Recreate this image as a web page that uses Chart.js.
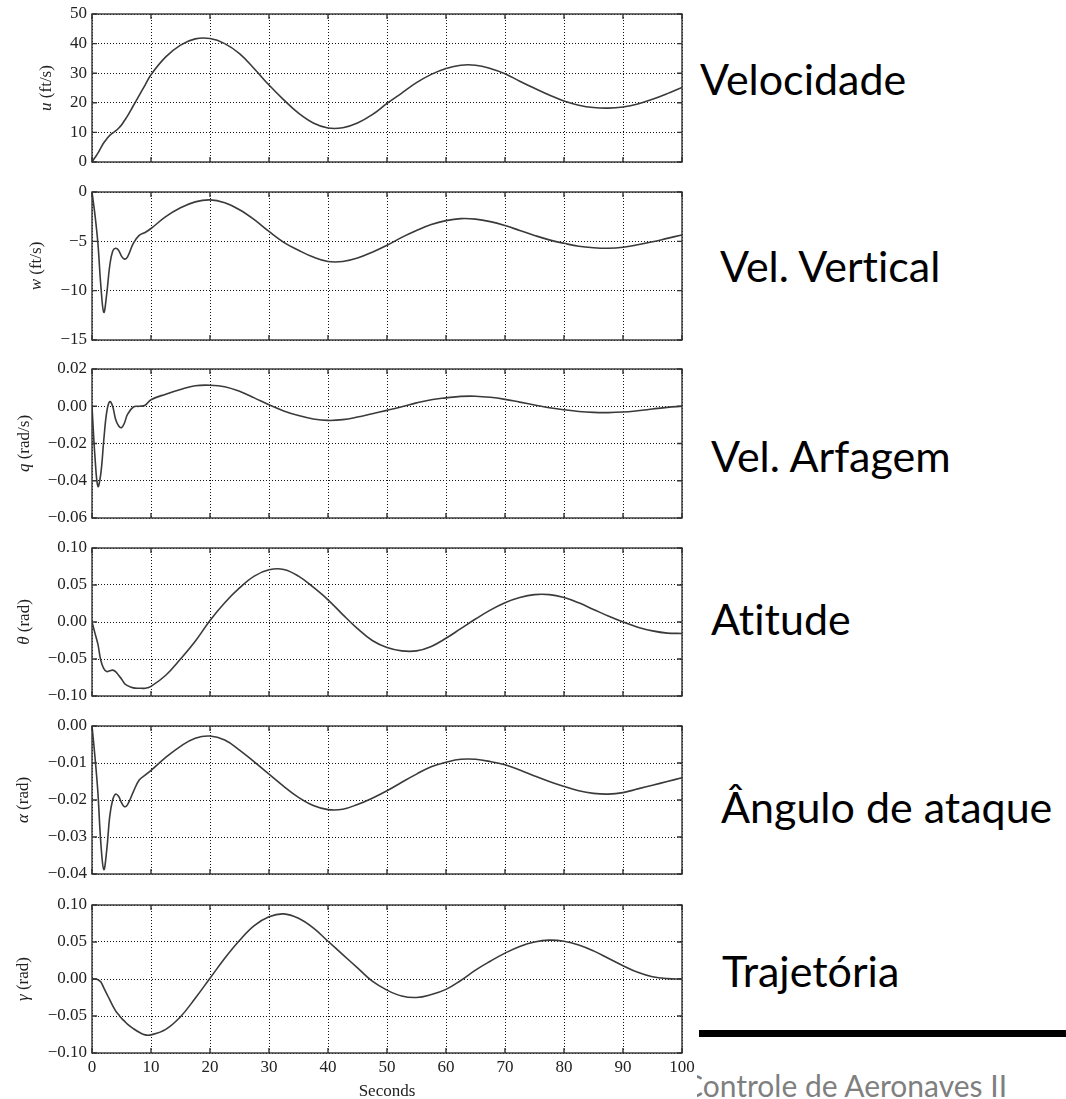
<!DOCTYPE html>
<html>
<head>
<meta charset="utf-8">
<script src="https://cdn.jsdelivr.net/npm/chart.js@4.4.1/dist/chart.umd.min.js"></script>
<style>
  html, body { margin: 0; padding: 0; background: #fff; }
  body { width: 1066px; height: 1099px; position: relative; overflow: hidden; }
  canvas { position: absolute; left: 0; }
  svg { position: absolute; left: 0; top: 0; pointer-events: none; }
  .side { font-family: Lato, "Open Sans", sans-serif; font-size: 43px; fill: #000; font-variant-ligatures: none; }
  .foot { font-family: Lato, "Open Sans", sans-serif; font-size: 30px; fill: #7f7f7f; font-variant-ligatures: none; }
</style>
</head>
<body>
<svg width="1066" height="1099">
  <defs>
    <clipPath id="footClip"><rect x="697" y="1040" width="369" height="59"/></clipPath>
  </defs>
  <text class="side" x="700" y="95">Velocidade</text>
  <text class="side" x="720" y="282">Vel. Vertical</text>
  <text class="side" x="711" y="472">Vel. Arfagem</text>
  <text class="side" x="711" y="635">Atitude</text>
  <text class="side" x="721" y="823">Ângulo de ataque</text>
  <text class="side" x="722" y="987">Trajetória</text>
  <rect x="699" y="1030" width="367" height="7" fill="#000"/>
  <text class="foot" x="683" y="1097" clip-path="url(#footClip)">Controle de Aeronaves II</text>
</svg>
<script>
// time axis (seconds), denser during the short-period transient
const seconds = [0, 0.5, 1, 1.5, 2, 2.5, 3, 3.5, 4, 4.5, 5, 5.5, 6, 7, 8, 9, 10,
  12.5, 15, 17.5, 20, 22.5, 25, 27.5, 30, 32.5, 35, 37.5, 40, 42.5, 45, 47.5, 50,
  52.5, 55, 57.5, 60, 62.5, 65, 67.5, 70, 72.5, 75, 77.5, 80, 82.5, 85, 87.5, 90,
  92.5, 95, 97.5, 100];

// u (ft/s)
const uSpeed = [0, 1.5, 3, 4.8, 6.5, 7.8, 9, 9.8, 10.5, 11.4, 12.5, 14, 15.5, 19, 22.5, 26, 29.5,
  35.5, 39.5, 41.6, 41.7, 40, 36.6, 31.5, 26, 21, 16.5, 13.2, 11.5, 11.6, 13.2, 16, 19.8,
  23.3, 26.8, 29.6, 31.6, 32.7, 32.7, 31.6, 29.8, 27.3, 24.9, 22.6, 20.6, 19.2, 18.4, 18.2, 18.6,
  19.6, 21.2, 23.1, 25.2];

// w (ft/s)
const wSpeed = [0, -2.3, -5.2, -9.5, -12.2, -10.3, -7.5, -6, -5.7, -5.9, -6.5, -6.8, -6.6, -5.2, -4.4, -4.1, -3.7,
  -2.5, -1.6, -1, -0.8, -1.1, -1.8, -2.8, -4, -5.1, -5.9, -6.6, -7.05, -7.05, -6.7, -6.1, -5.4,
  -4.6, -3.9, -3.3, -2.9, -2.7, -2.75, -3, -3.4, -3.9, -4.4, -4.85, -5.2, -5.5, -5.65, -5.7, -5.6,
  -5.35, -5.05, -4.7, -4.35];

// q (rad/s)
const qRate = [0, -0.027, -0.043, -0.036, -0.018, -0.003, 0.0025, 0, -0.007, -0.0105, -0.0115, -0.009, -0.0045, -0.0004, 0, 0.0005, 0.0035,
  0.0065, 0.009, 0.011, 0.0113, 0.0105, 0.008, 0.0045, 0.0008, -0.0025, -0.005, -0.0068, -0.0076, -0.0072, -0.0058, -0.004, -0.0022,
  -0.0003, 0.0018, 0.0035, 0.0045, 0.0053, 0.0054, 0.0048, 0.0037, 0.0022, 0.0007, -0.0008, -0.0019, -0.0028, -0.0033, -0.0034, -0.0031,
  -0.0024, -0.0015, -0.0006, 0];

// theta (rad)
const thetaAtt = [0, -0.015, -0.03, -0.052, -0.063, -0.067, -0.066, -0.065, -0.067, -0.072, -0.077, -0.083, -0.086, -0.089, -0.0895, -0.0895, -0.087,
  -0.072, -0.05, -0.026, 0.002, 0.026, 0.046, 0.062, 0.0705, 0.071, 0.062, 0.047, 0.03, 0.01, -0.009, -0.025, -0.0345,
  -0.039, -0.039, -0.033, -0.022, -0.009, 0.004, 0.016, 0.026, 0.033, 0.037, 0.037, 0.033, 0.026, 0.017, 0.008, 0,
  -0.007, -0.012, -0.015, -0.0155];

// alpha (rad)
const alphaAoa = [0, -0.0083, -0.018, -0.0317, -0.0388, -0.0335, -0.0245, -0.02, -0.0184, -0.019, -0.0207, -0.0218, -0.0213, -0.0178, -0.0146, -0.0133, -0.012,
  -0.0085, -0.0055, -0.0033, -0.0027, -0.0038, -0.0065, -0.0097, -0.013, -0.0163, -0.0193, -0.0215, -0.0226, -0.0225, -0.0212, -0.0195, -0.0175,
  -0.0152, -0.013, -0.011, -0.0098, -0.009, -0.009, -0.0096, -0.0105, -0.0119, -0.0135, -0.015, -0.0163, -0.0175, -0.0182, -0.0184, -0.018,
  -0.017, -0.016, -0.015, -0.014];

// gamma (rad)
const gammaPath = [0, 0, -0.001, -0.004, -0.012, -0.02, -0.028, -0.036, -0.043, -0.048, -0.053, -0.057, -0.061, -0.067, -0.072, -0.0755, -0.0755,
  -0.068, -0.051, -0.026, 0.001, 0.028, 0.052, 0.072, 0.084, 0.088, 0.082, 0.069, 0.051, 0.033, 0.015, -0.003, -0.015,
  -0.023, -0.025, -0.021, -0.014, -0.002, 0.012, 0.024, 0.035, 0.044, 0.05, 0.0525, 0.051, 0.046, 0.038, 0.028, 0.018,
  0.009, 0.003, 0.0005, 0];

const serif = '"Liberation Serif", "Times New Roman", serif';
const ink = '#222';

// one entry per stacked panel (y range, axis label, where it sits on the page)
const panels = [
  { sym: 'u', unit: ' (ft/s)', values: uSpeed, min: 0, max: 50, step: 10, dec: 0, top: 14, height: 148, labelX: 47 },
  { sym: 'w', unit: ' (ft/s)', values: wSpeed, min: -15, max: 0, step: 5, dec: 0, top: 192, height: 148, labelX: 37 },
  { sym: 'q', unit: ' (rad/s)', values: qRate, min: -0.06, max: 0.02, step: 0.02, dec: 2, top: 369, height: 149, labelX: 25 },
  { sym: 'θ', unit: ' (rad)', values: thetaAtt, min: -0.1, max: 0.1, step: 0.05, dec: 2, top: 548, height: 148, labelX: 25 },
  { sym: 'α', unit: ' (rad)', values: alphaAoa, min: -0.04, max: 0, step: 0.01, dec: 2, top: 726, height: 148, labelX: 24 },
  { sym: 'γ', unit: ' (rad)', values: gammaPath, min: -0.1, max: 0.1, step: 0.05, dec: 2, top: 905, height: 148, labelX: 24 }
];

// box round the plot with small inward ticks on all four sides
const framePlugin = {
  id: 'frame',
  afterDraw(chart) {
    const { ctx, chartArea: a, scales } = chart;
    ctx.save();
    ctx.strokeStyle = '#333';
    ctx.lineWidth = 1.4;
    ctx.setLineDash([]);
    ctx.strokeRect(a.left, a.top, a.right - a.left, a.bottom - a.top);
    ctx.beginPath();
    scales.x.ticks.forEach(t => {
      const px = scales.x.getPixelForValue(t.value);
      ctx.moveTo(px, a.top); ctx.lineTo(px, a.top + 5);
      ctx.moveTo(px, a.bottom); ctx.lineTo(px, a.bottom - 5);
    });
    scales.y.ticks.forEach(t => {
      const py = scales.y.getPixelForValue(t.value);
      ctx.moveTo(a.left, py); ctx.lineTo(a.left + 5, py);
      ctx.moveTo(a.right, py); ctx.lineTo(a.right - 5, py);
    });
    ctx.stroke();
    ctx.restore();
  }
};

// rotated y label: italic symbol followed by upright unit
const yLabelPlugin = {
  id: 'yLabel',
  afterDraw(chart, args, opts) {
    const { ctx, chartArea: a } = chart;
    const symFont = 'italic 17px ' + serif;
    const unitFont = '17px ' + serif;
    ctx.save();
    ctx.translate(opts.x, (a.top + a.bottom) / 2);
    ctx.rotate(-Math.PI / 2);
    ctx.fillStyle = ink;
    ctx.textBaseline = 'middle';
    ctx.font = symFont;
    const w1 = ctx.measureText(opts.sym).width;
    ctx.font = unitFont;
    const w2 = ctx.measureText(opts.unit).width;
    const x0 = -(w1 + w2) / 2;
    ctx.font = symFont;
    ctx.fillText(opts.sym, x0, 0);
    ctx.font = unitFont;
    ctx.fillText(opts.unit, x0 + w1, 0);
    ctx.restore();
  }
};

panels.forEach((p, i) => {
  const last = i === panels.length - 1;
  const padTop = 20;
  const xH = last ? 52 : 20;
  const canvas = document.createElement('canvas');
  canvas.width = 700;
  canvas.height = padTop + p.height + xH;
  canvas.style.top = (p.top - padTop) + 'px';
  document.body.appendChild(canvas);

  const gridOpts = { color: '#111', lineWidth: 1, drawTicks: false };

  new Chart(canvas, {
    type: 'line',
    data: {
      datasets: [{
        data: seconds.map((t, k) => ({ x: t, y: p.values[k] })),
        borderColor: '#3a3a3a',
        borderWidth: 1.6,
        pointRadius: 0,
        tension: 0.4,
        fill: false
      }]
    },
    options: {
      responsive: false,
      animation: false,
      layout: { padding: { top: padTop, right: 18, bottom: 0, left: 0 } },
      plugins: {
        legend: { display: false },
        tooltip: { enabled: false },
        yLabel: { sym: p.sym, unit: p.unit, x: p.labelX }
      },
      scales: {
        x: {
          type: 'linear',
          min: 0,
          max: 100,
          ticks: {
            stepSize: 10,
            display: last,
            color: ink,
            padding: 4,
            maxRotation: 0,
            font: { family: serif, size: 17 }
          },
          grid: gridOpts,
          border: { display: false, dash: [1, 2] },
          title: {
            display: last,
            text: 'Seconds',
            color: ink,
            font: { family: serif, size: 17 },
            padding: { top: 0, bottom: 3 }
          },
          afterFit: s => { s.height = xH; }
        },
        y: {
          min: p.min,
          max: p.max,
          ticks: {
            stepSize: p.step,
            color: ink,
            padding: 5,
            font: { family: serif, size: 17 },
            callback: v => {
              const val = Math.abs(v) < 1e-9 ? 0 : v;
              return val.toFixed(p.dec).replace('-', '\u2212');
            }
          },
          grid: gridOpts,
          border: { display: false, dash: [1, 2] },
          afterFit: s => { s.width = 92; }
        }
      }
    },
    plugins: [framePlugin, yLabelPlugin]
  });
});
</script>
</body>
</html>
